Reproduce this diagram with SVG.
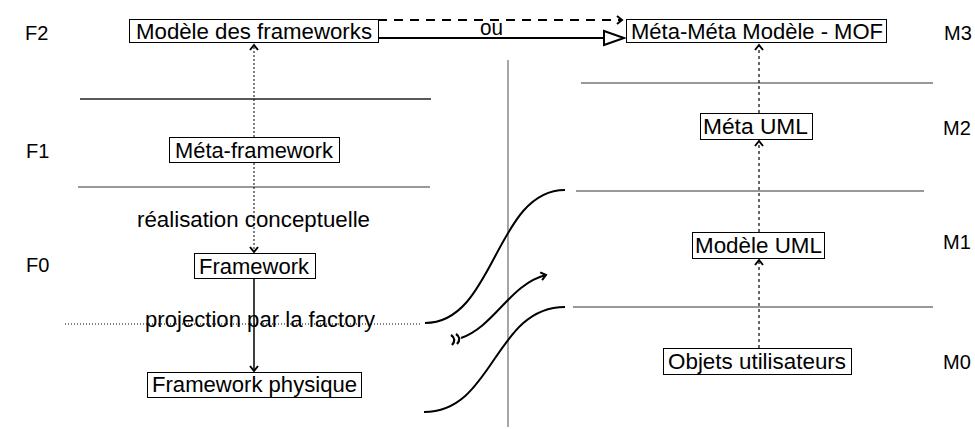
<svg xmlns="http://www.w3.org/2000/svg" width="975" height="429" viewBox="0 0 975 429">
<style>
text{font-family:"Liberation Sans",Arial,sans-serif;fill:#000}
.t{font-size:22.5px}
.lbl{font-size:20px}
.box{fill:#fff;stroke:#000;stroke-width:1}
.sep{stroke:#777;stroke-width:1.3;fill:none}
.sepd{stroke:#222;stroke-width:1.3;fill:none}
.dot{stroke:#000;stroke-width:1;stroke-dasharray:2,2;fill:none}
.dash{stroke:#000;stroke-width:1.2;stroke-dasharray:3,3;fill:none}
.solid{stroke:#000;stroke-width:1.5;fill:none}
.curve{stroke:#000;stroke-width:2;fill:none}
</style>
<defs>
<marker id="chev" markerUnits="userSpaceOnUse" markerWidth="12" markerHeight="12" refX="0" refY="0" viewBox="-8 -6 10 12" orient="auto">
<path d="M-5,-4 L0,0 L-5,4" fill="none" stroke="#000" stroke-width="2"/>
</marker>
<marker id="tri" markerUnits="userSpaceOnUse" markerWidth="26" markerHeight="18" refX="0" refY="0" viewBox="-22 -9 24 18" orient="auto">
<path d="M-20,-7 L0,0 L-20,7 Z" fill="#fff" stroke="#000" stroke-width="2"/>
</marker>
</defs>

<g id="layers">
<line class="sepd" x1="80" y1="99" x2="431" y2="99"/>
<line class="sep" x1="78" y1="187" x2="430" y2="187"/>
<line class="sep" x1="581" y1="83" x2="933" y2="83"/>
<line class="sep" x1="576" y1="191" x2="924" y2="191"/>
<line class="sep" x1="573" y1="307" x2="933" y2="307"/>
<line class="sep" x1="508" y1="60" x2="508" y2="427"/>
<line x1="65" y1="324" x2="420" y2="324" stroke="#000" stroke-width="1" stroke-dasharray="1,2"/>
</g>

<g id="level-labels">
<text class="lbl" x="25" y="40">F2</text>
<text class="lbl" x="26" y="158">F1</text>
<text class="lbl" x="26" y="272">F0</text>
<text class="lbl" x="944" y="40">M3</text>
<text class="lbl" x="943" y="135">M2</text>
<text class="lbl" x="943" y="249">M1</text>
<text class="lbl" x="943" y="369">M0</text>
</g>

<g id="connectors">
<line class="dot" x1="254" y1="137" x2="254" y2="45" marker-end="url(#chev)"/>
<line class="dot" x1="254" y1="163" x2="254" y2="252" marker-end="url(#chev)"/>
<line class="solid" x1="254" y1="279" x2="254" y2="371" marker-end="url(#chev)"/>
<line class="dash" x1="759" y1="348" x2="759" y2="260" marker-end="url(#chev)"/>
<line class="dash" x1="759" y1="232" x2="759" y2="141" marker-end="url(#chev)"/>
<line class="dash" x1="759" y1="113" x2="759" y2="45" marker-end="url(#chev)"/>
<line x1="378" y1="20" x2="622" y2="20" stroke="#000" stroke-width="2" stroke-dasharray="9,7" marker-end="url(#chev)"/>
<line x1="378" y1="38" x2="624" y2="38" stroke="#000" stroke-width="2" marker-end="url(#tri)"/>
<text class="t" x="480" y="35" textLength="23" lengthAdjust="spacingAndGlyphs">ou</text>
<path class="curve" d="M425,323 C495,323 495,190 565,190"/>
<path class="curve" d="M424,412 C494,412 494,307 565,307"/>
<path class="curve" d="M461,338 C495,326 510,284 546,275" marker-end="url(#chev)"/>
<path d="M451,335 Q457,339 452,345 M456,334 Q462,338 457,344" fill="none" stroke="#000" stroke-width="2.2"/>
<text class="t" x="137" y="227" textLength="233" lengthAdjust="spacingAndGlyphs">réalisation conceptuelle</text>
<text class="t" x="145" y="327" textLength="230" lengthAdjust="spacingAndGlyphs">projection par la factory</text>
</g>

<g id="modele-des-frameworks">
<rect class="box" x="129.5" y="19.5" width="249" height="23"/>
<text class="t" x="136" y="39" textLength="236" lengthAdjust="spacingAndGlyphs">Modèle des frameworks</text>
</g>
<g id="mof">
<rect class="box" x="626.5" y="19.5" width="260" height="23"/>
<text class="t" x="631" y="39" textLength="252" lengthAdjust="spacingAndGlyphs">Méta-Méta Modèle - MOF</text>
</g>
<g id="meta-framework">
<rect class="box" x="169.5" y="137.5" width="170" height="25"/>
<text class="t" x="175" y="158" textLength="158" lengthAdjust="spacingAndGlyphs">Méta-framework</text>
</g>
<g id="framework">
<rect class="box" x="194.5" y="253.5" width="121" height="25"/>
<text class="t" x="199" y="274" textLength="110" lengthAdjust="spacingAndGlyphs">Framework</text>
</g>
<g id="framework-physique">
<rect class="box" x="147.5" y="372.5" width="214" height="25"/>
<text class="t" x="152" y="392" textLength="205" lengthAdjust="spacingAndGlyphs">Framework physique</text>
</g>
<g id="meta-uml">
<rect class="box" x="700.5" y="113.5" width="112" height="26"/>
<text class="t" x="703" y="134" textLength="105" lengthAdjust="spacingAndGlyphs">Méta UML</text>
</g>
<g id="modele-uml">
<rect class="box" x="692.5" y="232.5" width="132" height="26"/>
<text class="t" x="695" y="253" textLength="127" lengthAdjust="spacingAndGlyphs">Modèle UML</text>
</g>
<g id="objets-utilisateurs">
<rect class="box" x="663.5" y="348.5" width="188" height="26"/>
<text class="t" x="668" y="369" textLength="178" lengthAdjust="spacingAndGlyphs">Objets utilisateurs</text>
</g>
</svg>
